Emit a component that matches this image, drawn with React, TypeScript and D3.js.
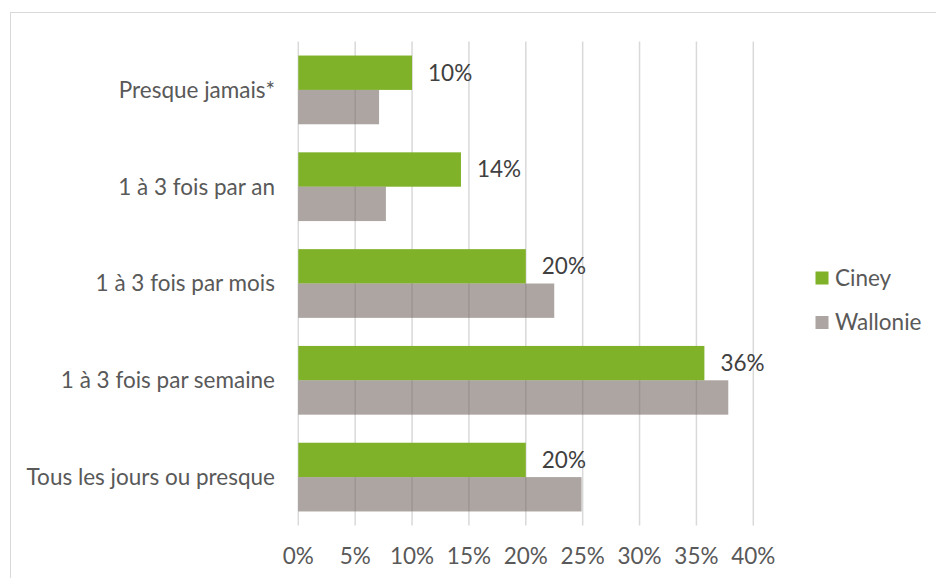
import React from "react";
import * as d3 from "d3";

const categories = [
  "Presque jamais*",
  "1 à 3 fois par an",
  "1 à 3 fois par mois",
  "1 à 3 fois par semaine",
  "Tous les jours ou presque",
];
const cineyValues = [10, 14.3, 20, 35.7, 20];
const cineyLabels = ["10%", "14%", "20%", "36%", "20%"];
const wallonieValues = [7.1, 7.7, 22.5, 37.8, 24.9];
const seriesNames = ["Ciney", "Wallonie"];
const xTicks = [0, 5, 10, 15, 20, 25, 30, 35, 40];

const W = 936;
const H = 578;
const FONT = "Lato, 'Open Sans', sans-serif";
const FS = 22.5;
const GREEN = "#7fb229";
const GRAY = "rgb(112,100,95)";
const GRAY_OP = 0.58;

export default function App() {
  const x = d3.scaleLinear().domain([0, 40]).range([298.3, 753.3]);
  const y = d3
    .scaleBand<string>()
    .domain(categories)
    .range([41.5, 525.5])
    .paddingInner(0.29)
    .paddingOuter(0.145);
  const bw = y.bandwidth() / 2;

  return (
    <svg
      width={W}
      height={H}
      style={{ position: "absolute", left: 0, top: 0, background: "#fff" }}
      fontFamily={FONT}
    >
      <rect x={10.5} y={12.5} width={1000} height={1000} fill="none" stroke="#d9d9d9" strokeWidth={1} />
      {xTicks.map((t) => (
        <line key={t} x1={x(t)} x2={x(t)} y1={41.5} y2={525.5} stroke="#d9d9d9" strokeWidth={1.5} />
      ))}
      {categories.map((c, i) => {
        const y0 = y(c)!;
        return (
          <g key={c}>
            <rect x={x(0)} y={y0} width={x(cineyValues[i]) - x(0)} height={bw} fill={GREEN} />
            <rect
              x={x(0)}
              y={y0 + bw}
              width={x(wallonieValues[i]) - x(0)}
              height={bw}
              fill={GRAY}
              fillOpacity={GRAY_OP}
            />
            <text
              x={x(cineyValues[i]) + 16}
              y={y0 + bw / 2}
              dy="0.35em"
              fontSize={FS}
              fill="#404040"
            >
              {cineyLabels[i]}
            </text>
            <text
              x={275}
              y={y0 + bw}
              dy="0.35em"
              textAnchor="end"
              fontSize={FS}
              fill="#595959"
            >
              {c}
            </text>
          </g>
        );
      })}
      {xTicks.map((t) => (
        <text key={t} x={x(t)} y={556} dy="0.35em" textAnchor="middle" fontSize={FS} fill="#595959">
          {t + "%"}
        </text>
      ))}
      {seriesNames.map((s, i) => {
        const cy = 278 + i * 44.5;
        return (
          <g key={s}>
            <rect
              x={815.5}
              y={cy - 6.5}
              width={13}
              height={13}
              fill={i === 0 ? GREEN : GRAY}
              fillOpacity={i === 0 ? 1 : GRAY_OP}
            />
            <text x={835} y={cy} dy="0.35em" fontSize={FS} fill="#595959">
              {s}
            </text>
          </g>
        );
      })}
    </svg>
  );
}
